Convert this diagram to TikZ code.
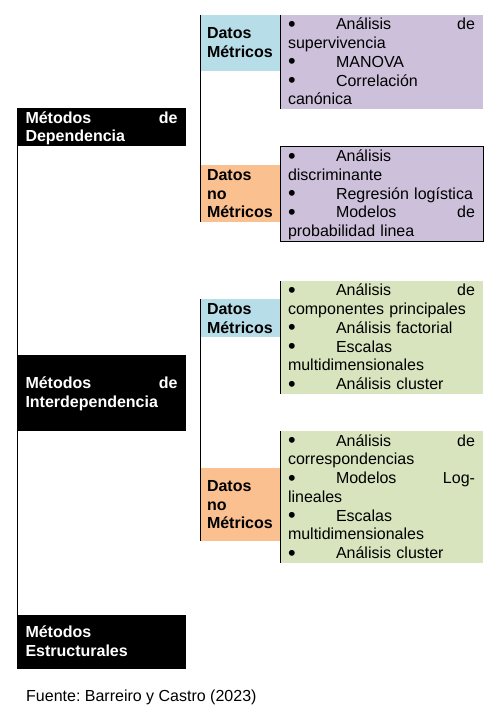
\documentclass[tikz,border=0pt]{standalone}
\usepackage{fontspec}
\setmainfont{Liberation Sans}
\frenchspacing
\definecolor{metblue}{RGB}{183, 221, 232}
\definecolor{nometorange}{RGB}{250, 192, 144}
\definecolor{deplilac}{RGB}{204, 192, 218}
\definecolor{intergreen}{RGB}{215, 228, 189}
\newcommand{\itm}{\makebox[48pt][l]{\raisebox{-1.6pt}{\scalebox{1.35}{\textbullet}}}}
\newcommand{\rs}{\rule[-3.875pt]{0pt}{18.75pt}}

\begin{document}
\begin{tikzpicture}[x=1pt, y=-1pt,
    font=\fontsize{16}{18.75}\selectfont,
    box/.style={anchor=north west, inner ysep=0pt, outer sep=0pt, align=left,
        execute at begin node=\rs, execute at end node=\rs},
    metodo/.style={box, fill=black, text=white, font=\fontsize{16}{18.75}\selectfont\bfseries,
        text width=152pt, inner xsep=8.2pt},
    datos/.style={box, font=\fontsize{16}{18.75}\selectfont\bfseries,
        text width=66pt, inner xsep=7pt},
    lista/.style={box, text width=187pt, inner xsep=8pt},
    rama/.style={line width=1pt}]
    \useasboundingbox (0,0) rectangle (498,713);

    % Methods
    \node[metodo, minimum height=38pt] (dep) at (17.3,108) {M\'etodos\hfill de\\Dependencia};
    \node[metodo, minimum height=75.7pt] (inter) at (17.3,355) {M\'etodos\hfill de\\Interdependencia};
    \node[metodo, minimum height=53.7pt] (estr) at (17.3,615) {M\'etodos\\Estructurales};
    \draw[rama] (dep.south west) -- (estr.north west);

    % Dependence
    \node[datos, fill=metblue, minimum height=55.7pt] (dmet1) at (200,15) {Datos\\M\'etricos};
    \node[datos, fill=nometorange, minimum height=57pt] (dnomet1) at (200,165) {Datos\\no\\M\'etricos};
    \draw[rama] (dmet1.north west) -- (dnomet1.south west);

    \node[lista, fill=deplilac, minimum height=92.7pt] (listaA) at (280,15)
        {\itm An\'alisis\hfill de\\supervivencia\\\itm MANOVA\\\itm Correlaci\'on\\can\'onica};
    \draw[rama] (listaA.north west) -- (listaA.south west);
    \node[lista, fill=deplilac, draw=black, line width=1pt, minimum height=94.7pt] (listaB) at (280,146.3)
        {\itm An\'alisis\\discriminante\\\itm Regresi\'on log\'istica\\\itm Modelos\hfill de\\probabilidad linea};

    % Interdependence
    \node[datos, fill=metblue, minimum height=37.7pt] (dmet2) at (200,299.3) {Datos\\M\'etricos};
    \node[datos, fill=nometorange, minimum height=72.7pt] (dnomet2) at (200,468.3) {Datos\\no\\M\'etricos};
    \draw[rama] (dmet2.north west) -- (dnomet2.south west);

    \node[lista, fill=intergreen, minimum height=111.7pt] (listaC) at (280,281)
        {\itm An\'alisis\hfill de\\componentes principales\\\itm An\'alisis factorial\\\itm Escalas\\multidimensionales\\\itm An\'alisis cluster};
    \draw[rama] (listaC.north west) -- (listaC.south west);
    \node[lista, fill=intergreen, minimum height=128.7pt] (listaD) at (280,431.3)
        {\itm An\'alisis\hfill de\\correspondencias\\\itm Modelos\hfill Log-\\lineales\\\itm Escalas\\multidimensionales\\\itm An\'alisis cluster};
    \draw[rama] (listaD.north west) -- (listaD.south west);

    % Source
    \node[anchor=base west, inner sep=0pt] (fuente) at (26,701.7) {Fuente: Barreiro y Castro (2023)};
\end{tikzpicture}
\end{document}
